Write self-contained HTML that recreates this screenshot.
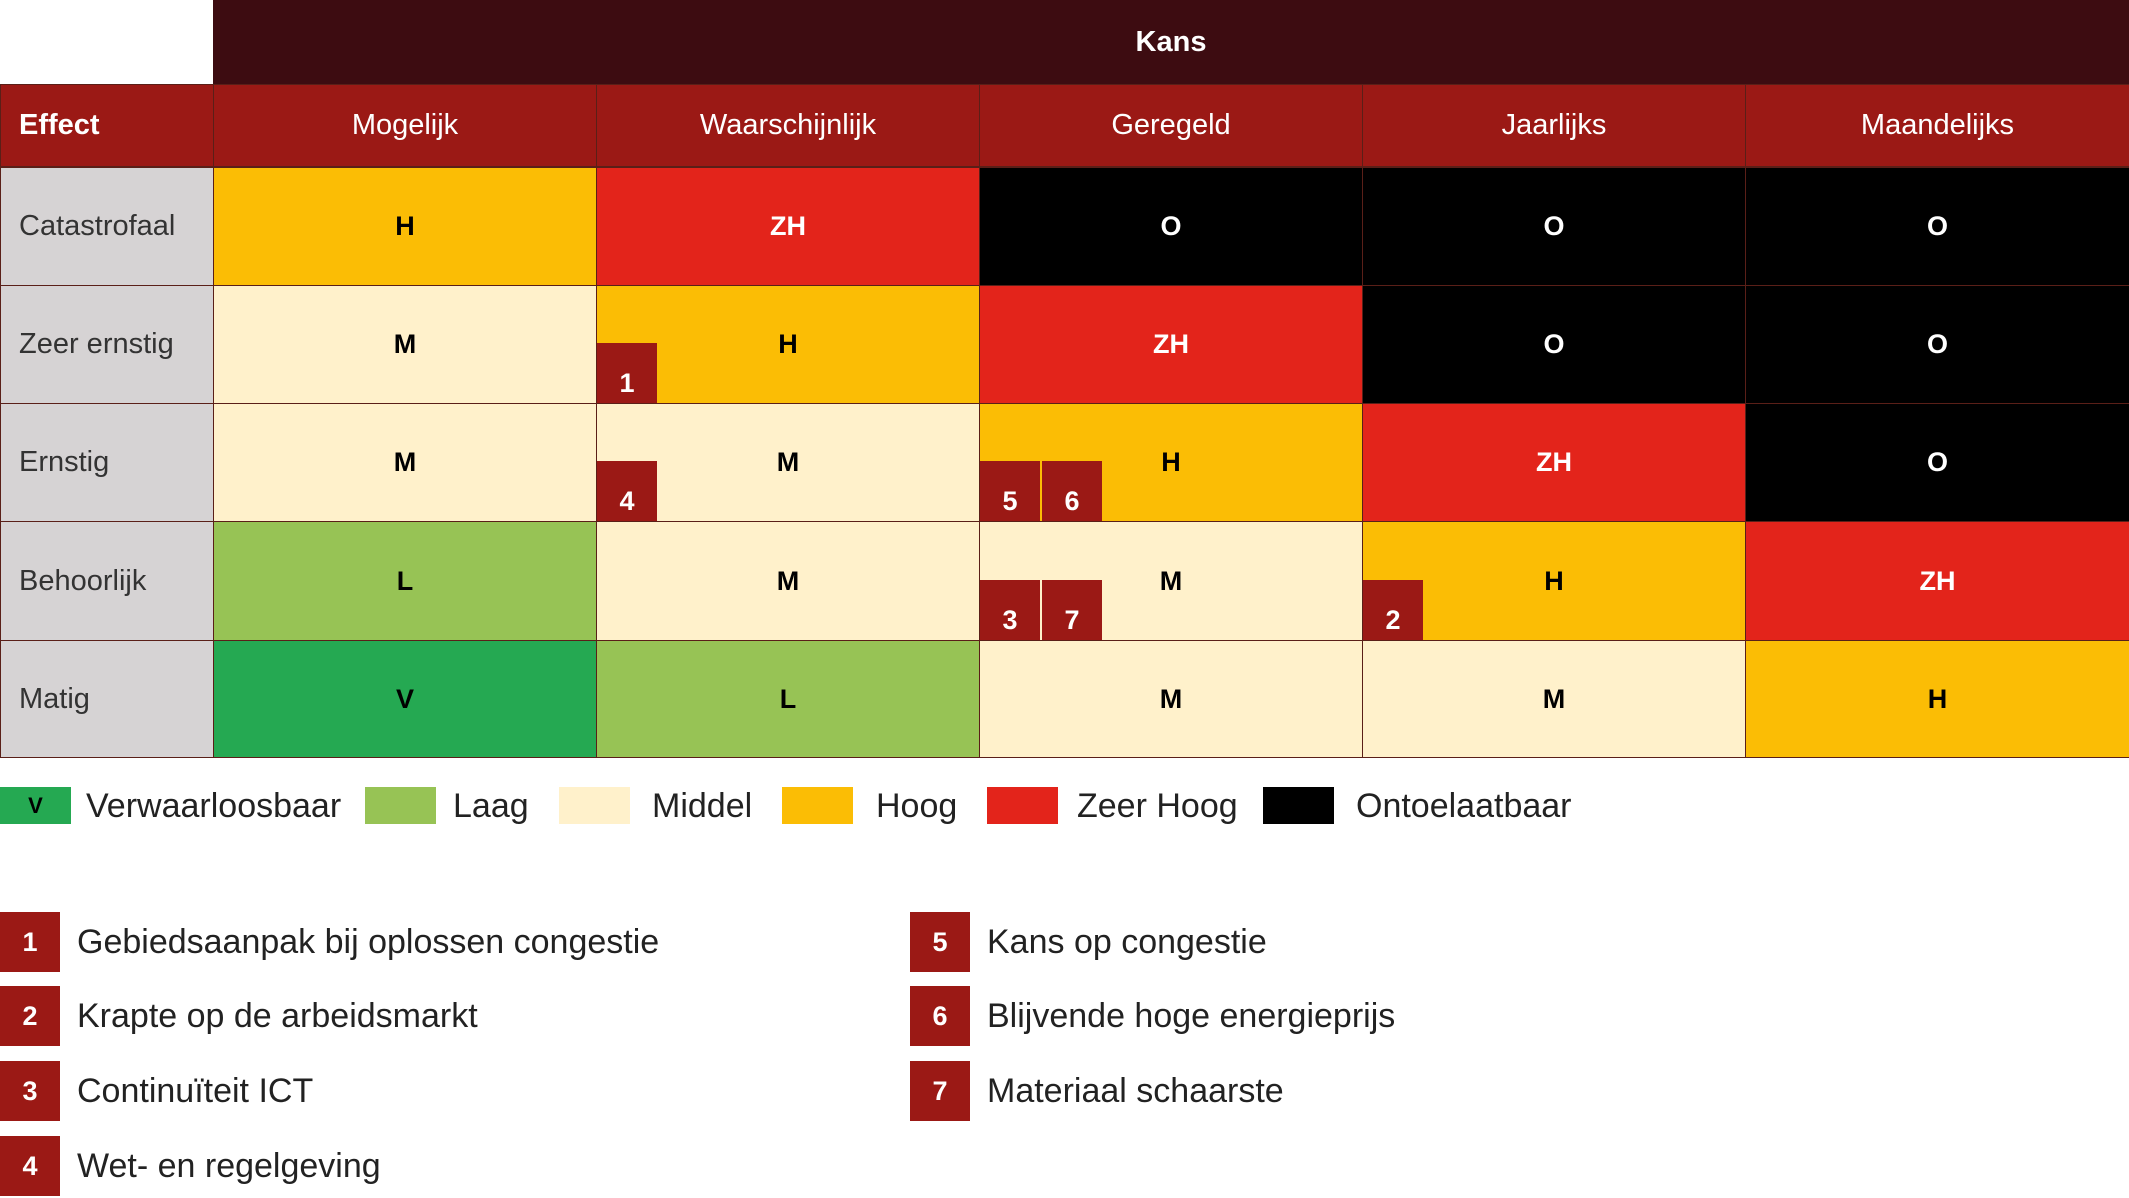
<!DOCTYPE html>
<html><head><meta charset="utf-8"><style>
body{margin:0;width:2129px;height:1198px;background:#fff;position:relative;overflow:hidden;font-family:"Liberation Sans",sans-serif}
.a{position:absolute;box-sizing:border-box;display:flex;align-items:center;justify-content:center}
.b{border:1.5px solid #5a1f18}
.hd{background:#9b1915;color:#fff;font-size:29px}
.rl{background:#d6d3d4;color:#333;font-size:29px;justify-content:flex-start;padding-left:18px}
.c{font-size:27px;font-weight:bold}
.mk{background:#9b1915;color:#fff;font-size:27px;font-weight:bold;width:60px;height:60px}
.sw{width:71px;height:37px}
.lt{font-size:34px;color:#222;justify-content:flex-start;white-space:nowrap}
</style></head><body>
<div class="a" style="left:213px;top:0;width:1916px;height:84px;background:#3d0c11;color:#fff;font-size:29px;font-weight:bold">Kans</div>
<div id="grid"></div>
<script>
const cols=["Mogelijk","Waarschijnlijk","Geregeld","Jaarlijks","Maandelijks"];
const rows=["Catastrofaal","Zeer ernstig","Ernstig","Behoorlijk","Matig"];
const levels=[["H","ZH","O","O","O"],["M","H","ZH","O","O"],["M","M","H","ZH","O"],["L","M","M","H","ZH"],["V","L","M","M","H"]];
const markers=[[1,1,[1]],[2,1,[4]],[2,2,[5,6]],[3,2,[3,7]],[3,3,[2]]];
const colors={V:["#25a952","#000"],L:["#97c355","#000"],M:["#fff1cb","#000"],H:["#fbbd05","#000"],ZH:["#e3241b","#fff"],O:["#000","#fff"]};
const xs=[0,213,596,979,1362,1745,2129],ys=[84,167,285,403,521,640,757];
const body=document.body;
function mk(cls,l,t,w,h,txt){const d=document.createElement('div');d.className='a '+cls;d.style.cssText=`left:${l}px;top:${t}px;width:${w}px;height:${h}px`;d.textContent=txt;body.appendChild(d);return d;}
let e=mk('b hd',0,84,xs[1]+1,83,'Effect');e.style.justifyContent='flex-start';e.style.paddingLeft='18px';e.style.fontWeight='bold';


cols.forEach((c,i)=>{const d=mk('b hd',xs[i+1],84,xs[i+2]-xs[i+1]+1,83,c);

});
rows.forEach((r,j)=>{const d=mk('b rl',0,ys[j+1],xs[1]+1,ys[j+2]-ys[j+1]+1,r);


levels[j].forEach((v,i)=>{const c=mk('b c',xs[i+1],ys[j+1],xs[i+2]-xs[i+1]+1,ys[j+2]-ys[j+1]+1,v);c.style.background=colors[v][0];c.style.color=colors[v][1];

});});
markers.forEach(([j,i,ns])=>{ns.forEach((n,k)=>{const m=mk('mk',xs[i+1]+1+k*62,ys[j+2]-60,60,60,String(n));m.style.paddingTop='20px';

});});
const legend=[["V","Verwaarloosbaar",0,86],["L","Laag",365,453],["M","Middel",559,652],["H","Hoog",782,876],["ZH","Zeer Hoog",987,1077],["O","Ontoelaatbaar",1263,1356]];
legend.forEach(([k,t,sx,tx])=>{const s=mk('sw',sx,787,71,37,k==="V"?"V":"");s.style.background=colors[k][0];s.style.fontWeight='bold';s.style.fontSize='22px';


const l=mk('lt',tx,784,300,44,t);

});
const risks=[[1,"Gebiedsaanpak bij oplossen congestie"],[2,"Krapte op de arbeidsmarkt"],[3,"Continuïteit ICT"],[4,"Wet- en regelgeving"],[5,"Kans op congestie"],[6,"Blijvende hoge energieprijs"],[7,"Materiaal schaarste"]];
const rys=[912,986,1061,1136];
risks.forEach(([n,t],i)=>{const x=i<4?0:910,y=rys[i%4];const b=mk('mk',x,y,60,60,String(n));


const l=mk('lt',x+77,y,700,60,t);

});
</script>
</body></html>
